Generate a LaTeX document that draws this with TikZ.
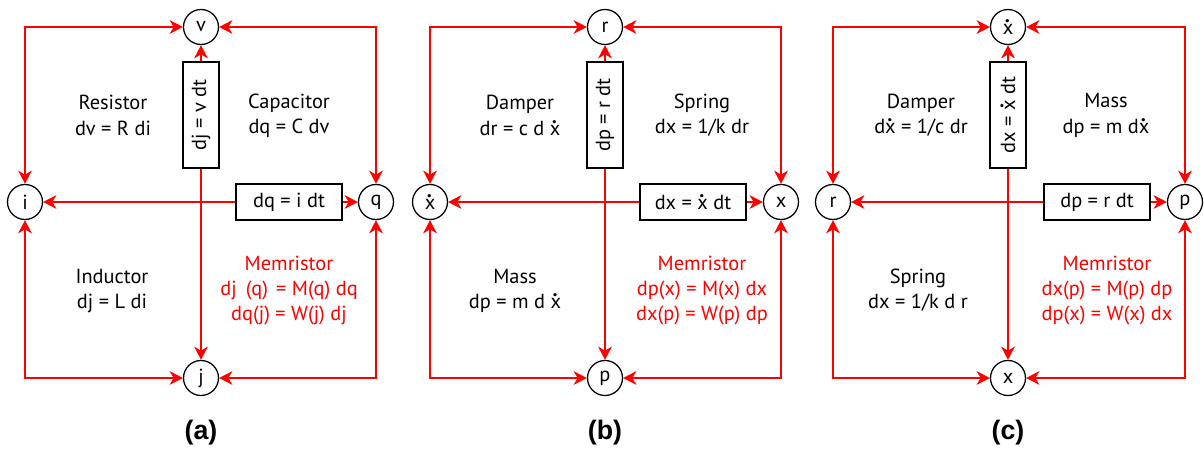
\documentclass[tikz,border=0pt]{standalone}
\usepackage{fontspec}
\setmainfont{PT Sans}
\newfontfamily\capfont{Liberation Sans}
\usetikzlibrary{arrows.meta}
\newcommand{\xd}{\leavevmode\rlap{\hspace{0.1em}\raisebox{0.58em}{\textbf{.}}}x}

\begin{document}
\begin{tikzpicture}[
  txt/.style={font=\fontsize{14.5}{17.8}\selectfont},
  var/.style={txt, circle, draw, line width=0.9pt, minimum size=0.875cm, inner sep=0pt},
  rel/.style={txt, draw, line width=0.9pt, minimum width=2.65cm, minimum height=0.9cm, inner sep=0pt},
  lab/.style={txt, align=center},
  link/.style={red, line width=1.3pt, -{Stealth[length=3.3mm, width=3.4mm, inset=1mm]}},
  dlink/.style={link, {Stealth[length=3.3mm, width=3.4mm, inset=1mm]}-{Stealth[length=3.3mm, width=3.4mm, inset=1mm]}},
  fig/.style={font=\capfont\bfseries\fontsize{19}{22}\selectfont}
]
\useasboundingbox (0,0) rectangle (30.1,11.225);

\node[var] (va) at (5.025,10.55) {v};
\node[var] (ia) at (0.625,6.175) {i};
\node[var] (qa) at (9.4,6.175) {q};
\node[var] (ja) at (5.025,1.775) {j};
\node[rel, rotate=90] (vba) at (5.025,8.35) {dj = v dt};
\node[rel] (hba) at (7.225,6.175) {dq = i dt};
\draw[dlink] (va) -| (ia);
\draw[dlink] (va) -| (qa);
\draw[dlink] (ja) -| (ia);
\draw[dlink] (ja) -| (qa);
\draw[link] (vba) -- (va);
\draw[link] (vba) -- (ja);
\draw[link] (hba) -- (ia);
\draw[link] (hba) -- (qa);
\node[lab] (resa) at (2.825,8.34) {Resistor\\dv = R di};
\node[lab] (cpta) at (7.225,8.34) {Capacitor\\dq = C dv};
\node[lab] (inda) at (2.8,3.96) {Inductor\\dj = L di};
\node[lab, red] (mema) at (7.225,3.95) {Memristor\\dj\hspace{0.45em}(q)\hspace{0.4em}= M(q) dq\\dq(j) = W(j) dj};
\node[fig] (figa) at (5.025,0.4) {(a)};

\node[var] (rb) at (15.125,10.55) {r};
\node[var] (xdb) at (10.75,6.175) {\xd};
\node[var] (xb) at (19.525,6.175) {x};
\node[var] (pb) at (15.125,1.775) {p};
\node[rel, rotate=90] (vbb) at (15.125,8.35) {dp = r dt};
\node[rel] (hbb) at (17.325,6.175) {dx = \xd{} dt};
\draw[dlink] (rb) -| (xdb);
\draw[dlink] (rb) -| (xb);
\draw[dlink] (pb) -| (xdb);
\draw[dlink] (pb) -| (xb);
\draw[link] (vbb) -- (rb);
\draw[link] (vbb) -- (pb);
\draw[link] (hbb) -- (xdb);
\draw[link] (hbb) -- (xb);
\node[lab] (damb) at (13.0,8.34) {Damper\\dr = c d \xd};
\node[lab] (sprb) at (17.55,8.34) {Spring\\dx = 1/k dr};
\node[lab] (masb) at (12.875,3.96) {Mass\\dp = m d \xd};
\node[lab, red] (memb) at (17.55,3.95) {Memristor\\dp(x) = M(x) dx\\dx(p) = W(p) dp};
\node[fig] (figb) at (15.125,0.4) {(b)};

\node[var] (xdc) at (25.2,10.55) {\xd};
\node[var] (rc) at (20.825,6.175) {r};
\node[var] (pc) at (29.625,6.175) {p};
\node[var] (xc) at (25.2,1.775) {x};
\node[rel, rotate=90] (vbc) at (25.2,8.35) {dx = \xd{} dt};
\node[rel] (hbc) at (27.425,6.175) {dp = r dt};
\draw[dlink] (xdc) -| (rc);
\draw[dlink] (xdc) -| (pc);
\draw[dlink] (xc) -| (rc);
\draw[dlink] (xc) -| (pc);
\draw[link] (vbc) -- (xdc);
\draw[link] (vbc) -- (xc);
\draw[link] (hbc) -- (rc);
\draw[link] (hbc) -- (pc);
\node[lab] (damc) at (23.025,8.34) {Damper\\d\xd{} = 1/c dr};
\node[lab] (masc) at (27.65,8.34) {Mass\\dp = m d\xd};
\node[lab] (sprc) at (22.95,3.96) {Spring\\dx = 1/k d r};
\node[lab, red] (memc) at (27.675,3.95) {Memristor\\dx(p) = M(p) dp\\dp(x) = W(x) dx};
\node[fig] (figc) at (25.2,0.4) {(c)};
\end{tikzpicture}
\end{document}
